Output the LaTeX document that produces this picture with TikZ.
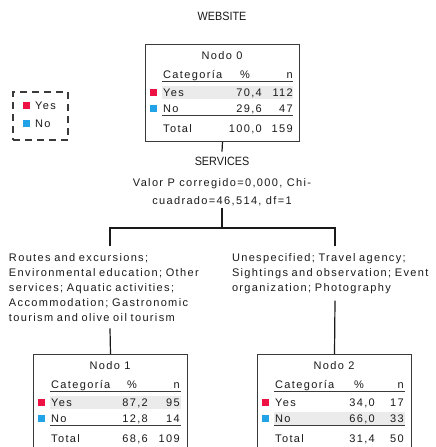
\documentclass[tikz,border=0pt]{standalone}
\usepackage{fontspec}
\setmainfont{Liberation Sans}
\newfontfamily\spaced[LetterSpace=12.3]{Liberation Sans}
\newfontfamily\narrowfont[FakeStretch=0.9]{Liberation Sans}
\definecolor{ink}{HTML}{1A1A1A}
\definecolor{frame}{HTML}{3A3A3A}
\definecolor{yesred}{HTML}{EE1144}
\definecolor{noblue}{HTML}{22A3E8}
\definecolor{bandgray}{HTML}{EBEBEB}
\begin{document}
\begin{tikzpicture}[x=1pt,y=-1pt,
  txt/.style={inner sep=0pt, font=\spaced\fontsize{11}{15}\selectfont, text=ink},
  plain/.style={inner sep=0pt, font=\narrowfont\fontsize{12}{15}\selectfont, text=ink},
  tbox/.style={draw=frame, line width=1pt, fill=white, minimum width=154, minimum height=#1, anchor=north west, inner sep=0pt},
  tbox/.default=110,
  swatch/.style={fill=#1, minimum size=7, inner sep=0pt},
  band/.style={fill=bandgray},
  rulethin/.style={draw=frame, line width=1pt},
  rulethick/.style={draw=frame, line width=1.6pt},
  conn/.style={draw=ink, line width=1.2pt},
  legendbox/.style={draw=frame, line width=1.2pt, dash pattern=on 7pt off 5pt, minimum width=55, minimum height=48, inner sep=0pt}
]
\clip (0,0) rectangle (436,447);
\fill[white] (0,0) rectangle (436,447);

% dependent variable
\node[plain] (dep) at (222,16) {WEBSITE};

% legend
\node[legendbox] (legend) at (40.5,116) {};
\node[swatch=yesred] (legyes) at (26.5,105) {};
\node[txt, anchor=base west] (legyest) at (35,109) {Yes};
\node[swatch=noblue] (legno) at (26.5,123) {};
\node[txt, anchor=base west] (legnot) at (35,127) {No};

% ---- Node 0
\begin{scope}[shift={(145,44)}]
\node[tbox=97] (n0) at (0,0) {};
\fill[band] (17,42) rectangle (148,55);
\node[txt] (n0title) at (77,12) {Nodo 0};
\node[txt, anchor=base west] (n0cat) at (18,34) {Categoría};
\node[txt, anchor=base] (n0pc) at (100,34) {\%};
\node[txt, anchor=base east] (n0n) at (148,34) {n};
\draw[rulethin] (17,37.5) -- (148,37.5);
\node[swatch=yesred] (n0ys) at (8.5,48.5) {};
\node[txt, anchor=base west] (n0y) at (18,52.5) {Yes};
\node[txt, anchor=base east] (n0yp) at (117,52.5) {70,4};
\node[txt, anchor=base east] (n0yn) at (148,52.5) {112};
\node[swatch=noblue] (n0ns) at (8.5,64) {};
\node[txt, anchor=base west] (n0no) at (18,68) {No};
\node[txt, anchor=base east] (n0np) at (117,68) {29,6};
\node[txt, anchor=base east] (n0nn) at (148,68) {47};
\draw[rulethick] (17,71.5) -- (148,71.5);
\node[txt, anchor=base west] (n0t) at (18,88) {Total};
\node[txt, anchor=base east] (n0tp) at (117,88) {100,0};
\node[txt, anchor=base east] (n0tn) at (148,88) {159};
\end{scope}

% split variable
\node[plain, inner ysep=5pt] (var) at (222,161) {SERVICES};
\node[txt, align=center, font=\spaced\fontsize{11}{18}\selectfont, anchor=north, inner ysep=2pt] (stats) at (222,176)
  {Valor P corregido=0,000, Chi-\\cuadrado=46,514, df=1};
\coordinate (split) at (222,228);

% branch labels
\node[txt, align=left, text width=202, anchor=north, inner ysep=7pt] (left) at (110,246)
  {Routes and excursions;\\Environmental education; Other\\services; Aquatic activities;\\Accommodation; Gastronomic\\tourism and olive oil tourism};
\node[txt, align=left, text width=206, anchor=north, inner ysep=7pt] (right) at (335,246)
  {Unespecified; Travel agency;\\Sightings and observation; Event\\organization; Photography};

% ---- Node 1
\begin{scope}[shift={(33,354)}]
\node[tbox] (n1) at (0,0) {};
\fill[band] (17,42) rectangle (148,55);
\node[txt] (n1title) at (77,12) {Nodo 1};
\node[txt, anchor=base west] (n1cat) at (18,34) {Categoría};
\node[txt, anchor=base] (n1pc) at (99,34) {\%};
\node[txt, anchor=base east] (n1n) at (147,34) {n};
\draw[rulethin] (17,37.5) -- (148,37.5);
\node[swatch=yesred] (n1ys) at (8.5,48.5) {};
\node[txt, anchor=base west] (n1y) at (18,52.5) {Yes};
\node[txt, anchor=base east] (n1yp) at (115,52.5) {87,2};
\node[txt, anchor=base east] (n1yn) at (147,52.5) {95};
\node[swatch=noblue] (n1ns) at (8.5,64) {};
\node[txt, anchor=base west] (n1no) at (18,68) {No};
\node[txt, anchor=base east] (n1np) at (115,68) {12,8};
\node[txt, anchor=base east] (n1nn) at (147,68) {14};
\draw[rulethick] (17,71.5) -- (148,71.5);
\node[txt, anchor=base west] (n1t) at (18,88) {Total};
\node[txt, anchor=base east] (n1tp) at (115,88) {68,6};
\node[txt, anchor=base east] (n1tn) at (147,88) {109};
\end{scope}

% ---- Node 2
\begin{scope}[shift={(257,354)}]
\node[tbox] (n2) at (0,0) {};
\fill[band] (17,57.5) rectangle (148,70.5);
\node[txt] (n2title) at (77,12) {Nodo 2};
\node[txt, anchor=base west] (n2cat) at (18,34) {Categoría};
\node[txt, anchor=base] (n2pc) at (102,34) {\%};
\node[txt, anchor=base east] (n2n) at (147,34) {n};
\draw[rulethin] (17,37.5) -- (148,37.5);
\node[swatch=yesred] (n2ys) at (8.5,48.5) {};
\node[txt, anchor=base west] (n2y) at (18,52.5) {Yes};
\node[txt, anchor=base east] (n2yp) at (118,52.5) {34,0};
\node[txt, anchor=base east] (n2yn) at (147,52.5) {17};
\node[swatch=noblue] (n2ns) at (8.5,64) {};
\node[txt, anchor=base west] (n2no) at (18,68) {No};
\node[txt, anchor=base east] (n2np) at (118,68) {66,0};
\node[txt, anchor=base east] (n2nn) at (147,68) {33};
\draw[rulethick] (17,71.5) -- (148,71.5);
\node[txt, anchor=base west] (n2t) at (18,88) {Total};
\node[txt, anchor=base east] (n2tp) at (118,88) {31,4};
\node[txt, anchor=base east] (n2tn) at (147,88) {50};
\end{scope}

% connectors
\draw[conn] (n0.south) -- (var.north);
\draw[conn] (stats.south) -- (split);
\draw[conn] (left.north) |- (split) -| (right.north);
\draw[conn] (left.south) -- (n1.north);
\draw[conn] (right.south) -- (n2.north);
\end{tikzpicture}
\end{document}
